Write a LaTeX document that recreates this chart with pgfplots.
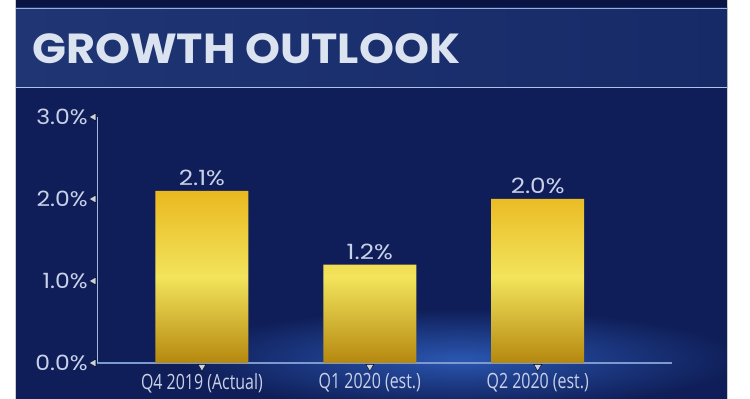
\documentclass[border=0pt]{standalone}
\usepackage{graphicx}
\usepackage{pgfplots}
\pgfplotsset{compat=1.18}
\usepackage{fontspec}
\setmainfont{Poppins}
\newfontfamily\condfont{Open Sans}
\definecolor{navy}{HTML}{0F1E58}
\definecolor{navydark}{HTML}{0A1442}
\definecolor{band}{HTML}{172A68}
\definecolor{bandlight}{HTML}{1F3574}
\definecolor{txt}{HTML}{C9D1E8}
\definecolor{axisblue}{HTML}{7C9AD0}
\definecolor{glow}{HTML}{2A56B0}
\definecolor{goldtop}{HTML}{E9B81F}
\definecolor{goldmid}{HTML}{F2E45C}
\definecolor{goldbot}{HTML}{B5880F}
\definecolor{titletxt}{HTML}{DCE3F0}
\newcommand{\xl}[1]{\scalebox{0.76}[1]{\condfont\fontsize{21}{21}\selectfont #1}}
\begin{document}
\begin{tikzpicture}[x=1pt,y=1pt]
\path[use as bounding box] (0,0) rectangle (750,399);
\fill[white] (0,0) rectangle (750,399);
\fill[navy] (16,0) rectangle (727,399);
\begin{scope}
\clip (16,0) rectangle (727,399);
\shade[inner color=glow, outer color=navy] (460,40) ellipse (280 and 50);
\fill[navydark] (16,391) rectangle (727,399);
\end{scope}
\draw[gray!40, line width=1pt] (15.5,0) -- (15.5,399);
\draw[gray!40, line width=1pt] (727.5,0) -- (727.5,399);
% title band
\shade[left color=bandlight, right color=band] (16,311) rectangle (727,391);
\draw[axisblue!80, line width=1.2pt] (16,390.5) -- (727,390.5);
\draw[axisblue!60, line width=1pt] (16,311.5) -- (727,311.5);
\node[anchor=west, text=titletxt, inner sep=0pt] at (32,350) {\scalebox{1.06}[1]{\bfseries\fontsize{42}{42}\selectfont GROWTH OUTLOOK}};
\begin{axis}[
  at={(97pt,36pt)}, anchor=south west,
  scale only axis, width=575pt, height=246pt,
  xmin=-0.625, xmax=2.80, ymin=0, ymax=3,
  axis x line=bottom, axis y line=left,
  x axis line style={-, draw=axisblue, line width=2pt},
  y axis line style={-, draw=axisblue!70, line width=0.8pt},
  major tick length=0pt,
  ytick={0,1,2,3},
  xtick={0,1,2},
  /pgf/number format/assume math mode=true,
  yticklabel={\scalebox{1.12}[1]{\pgfmathprintnumber[fixed,fixed zerofill,precision=1]{\tick}\%}},
  yticklabel style={font=\fontsize{21}{21}\selectfont, text=txt, inner sep=0pt, xshift=-9pt},
  xticklabels={{\xl{Q4 2019 (Actual)}}, {\xl{Q1 2020 (est.)}}, {\xl{Q2 2020 (est.)}}},
  xticklabel style={text=txt, inner sep=0pt, yshift=-10pt},
  clip=false,
]
\addplot[ybar, bar width=93pt, draw=none, top color=goldtop, bottom color=goldbot, middle color=goldmid,
  nodes near coords={\scalebox{1.18}[1]{\pgfmathprintnumber[fixed,fixed zerofill,precision=1]{\pgfplotspointmeta}\%}},
  nodes near coords style={font=\fontsize{21}{21}\selectfont, text=txt, inner sep=5pt}]
  coordinates {(0,2.1) (1,1.2) (2,2.0)};
% tick marker triangles
\addplot[only marks, mark=triangle*, mark size=4.5pt, mark options={fill=txt, draw=none, rotate=180}]
  coordinates {(0,-0.045) (1,-0.045) (2,-0.045)};
\addplot[only marks, mark=triangle*, mark size=4.5pt, mark options={fill=txt, draw=none, rotate=90}]
  coordinates {(-0.645,0) (-0.645,1) (-0.645,2) (-0.645,3)};
\end{axis}
\end{tikzpicture}
\end{document}
